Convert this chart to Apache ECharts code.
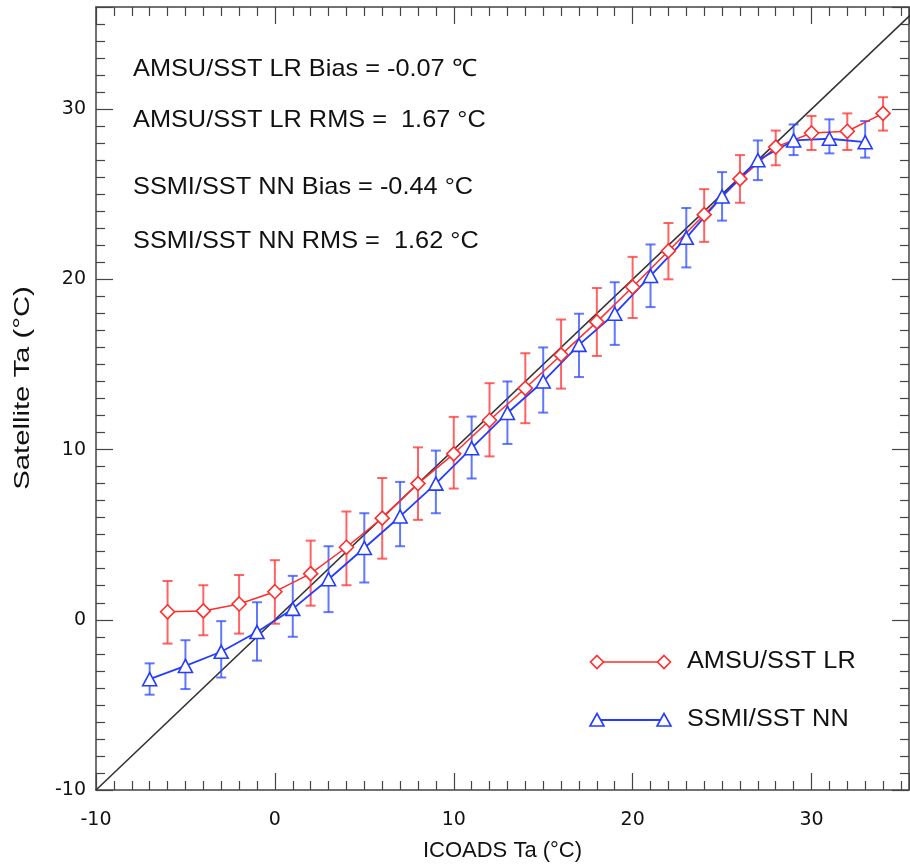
<!DOCTYPE html>
<html>
<head>
<meta charset="utf-8">
<script src="https://cdn.jsdelivr.net/npm/echarts@6/dist/echarts.min.js"></script>
<style>html,body{margin:0;padding:0;background:#fff}#c{width:910px;height:867px}</style>
</head>
<body>
<div id="c"></div>
<script>
// AMSU/SST LR (red diamonds)
const amsuX   = [-6, -4, -2, 0, 2, 4, 6, 8, 10, 12, 14, 16, 18, 20, 22, 24, 26, 28, 30, 32, 34];
const amsuY   = [0.47, 0.52, 0.93, 1.65, 2.71, 4.26, 5.97, 8.0, 9.75, 11.72, 13.6, 15.56, 17.5, 19.55, 21.67, 23.8, 25.9, 27.77, 28.6, 28.7, 29.75];
const amsuLo  = [-1.40, -0.91, -0.81, -0.23, 0.83, 2.03, 3.59, 5.87, 7.71, 9.6, 11.55, 13.58, 15.5, 17.73, 20.0, 22.2, 24.5, 26.7, 27.6, 27.6, 28.74];
const amsuHi  = [2.28, 2.03, 2.63, 3.5, 4.65, 6.36, 8.33, 10.13, 11.92, 13.9, 15.66, 17.64, 19.49, 21.32, 23.31, 25.3, 27.3, 28.74, 29.6, 29.75, 30.7];

// SSMI/SST NN (blue triangles)
const ssmiX   = [-7, -5, -3, -1, 1, 3, 5, 7, 9, 11, 13, 15, 17, 19, 21, 23, 25, 27, 29, 31, 33];
const ssmiY   = [-3.49, -2.71, -1.88, -0.72, 0.64, 2.38, 4.22, 6.07, 8.0, 10.08, 12.15, 14.0, 16.15, 17.98, 20.2, 22.44, 24.87, 27.0, 28.16, 28.26, 28.06];
const ssmiLo  = [-4.4, -4.07, -3.39, -2.4, -1.0, 0.45, 2.19, 4.32, 6.26, 8.3, 10.33, 12.17, 14.26, 16.15, 18.37, 20.7, 23.45, 25.83, 27.3, 27.4, 27.15];
const ssmiHi  = [-2.56, -1.2, -0.08, 1.03, 2.58, 4.32, 6.26, 8.1, 9.94, 11.94, 14.0, 16.0, 17.98, 19.83, 22.05, 24.19, 26.3, 28.16, 29.1, 29.4, 29.3];

const oneToOne = [[-10, -10], [36, 36]];
const statLines = [
  'AMSU/SST LR Bias = -0.07 \u2103',
  'AMSU/SST LR RMS =  1.67 \u00B0C',
  'SSMI/SST NN Bias = -0.44 \u00B0C',
  'SSMI/SST NN RMS =  1.62 \u00B0C'
];
const legendNames = ['AMSU/SST LR', 'SSMI/SST NN'];
const xTitle = 'ICOADS Ta (\u00B0C)';
const yTitle = 'Satellite Ta (\u00B0C)';

const RED = 'rgb(255,45,45)';
const BLUE = 'rgb(35,60,255)';
const RED_EB = 'rgba(255,60,60,0.8)';
const BLUE_EB = 'rgba(45,75,255,0.75)';
const FONT = 'Liberation Sans';
const TICKFONT = 'DejaVu Sans';

function errData(xs, lo, hi) { return xs.map((x, i) => [x, lo[i], hi[i]]); }
function pairs(xs, ys) { return xs.map((x, i) => [x, ys[i]]); }
function errRender(color) {
  return function (params, api) {
    const x = api.value(0);
    const p1 = api.coord([x, api.value(1)]);
    const p2 = api.coord([x, api.value(2)]);
    const w = 5;
    const st = { stroke: color, lineWidth: 2, fill: null };
    return { type: 'group', children: [
      { type: 'line', shape: { x1: p1[0], y1: p1[1], x2: p2[0], y2: p2[1] }, style: st },
      { type: 'line', shape: { x1: p1[0] - w, y1: p1[1], x2: p1[0] + w, y2: p1[1] }, style: st },
      { type: 'line', shape: { x1: p2[0] - w, y1: p2[1], x2: p2[0] + w, y2: p2[1] }, style: st }
    ]};
  };
}

const axisCommon = {
  type: 'value', min: -10, interval: 10,
  axisLine: { show: true, onZero: false, lineStyle: { color: '#444', width: 1.5 } },
  axisTick: { show: true, inside: true, length: 17, lineStyle: { color: '#444', width: 1.2 } },
  minorTick: { show: true, splitNumber: 10, length: 9, lineStyle: { color: '#444', width: 1.2 } },
  splitLine: { show: false },
  minorSplitLine: { show: false }
};

function diamondPts(cx, cy, r) { return [[cx, cy - r], [cx + r, cy], [cx, cy + r], [cx - r, cy]]; }
function triPts(cx, cy) { return [[cx, cy - 6.5], [cx + 7, cy + 6], [cx - 7, cy + 6]]; }

const chart = echarts.init(document.getElementById('c'));
const gl = 96, gt = 7, gr = 1, gb = 69;
chart.setOption({
  animation: false,
  backgroundColor: '#fff',
  grid: { left: gl, top: gt, right: gr, bottom: gb },
  xAxis: [
    Object.assign({}, axisCommon, { max: 35.45, position: 'bottom',
      name: xTitle, nameLocation: 'middle', nameGap: 50,
      nameTextStyle: { fontFamily: FONT, fontSize: 22, color: '#111' },
      axisLabel: { fontFamily: TICKFONT, fontSize: 19, color: '#111', margin: 21, showMaxLabel: false } }),
    Object.assign({}, axisCommon, { max: 35.45, position: 'top', axisLabel: { show: false } })
  ],
  yAxis: [
    Object.assign({}, axisCommon, { max: 36, position: 'left',
      axisLabel: { fontFamily: TICKFONT, fontSize: 19, color: '#111', margin: 10, showMaxLabel: false } }),
    Object.assign({}, axisCommon, { max: 36, position: 'right', axisLabel: { show: false } })
  ],
  series: [
    { type: 'line', data: oneToOne, symbol: 'none', lineStyle: { color: '#333', width: 1.6 }, z: 1, silent: true },
    { type: 'custom', data: errData(amsuX, amsuLo, amsuHi), renderItem: errRender(RED_EB), z: 2, encode: { x: 0, y: [1, 2] } },
    { type: 'custom', data: errData(ssmiX, ssmiLo, ssmiHi), renderItem: errRender(BLUE_EB), z: 2, encode: { x: 0, y: [1, 2] } },
    { type: 'line', name: legendNames[0], data: pairs(amsuX, amsuY), symbol: 'diamond', symbolSize: 14,
      showAllSymbol: true, lineStyle: { color: RED, width: 1.5 },
      itemStyle: { color: '#fff', borderColor: RED, borderWidth: 1.6 }, z: 3 },
    { type: 'line', name: legendNames[1], data: pairs(ssmiX, ssmiY), symbol: 'triangle', symbolSize: [14, 13],
      showAllSymbol: true, lineStyle: { color: BLUE, width: 1.8 },
      itemStyle: { color: '#fff', borderColor: BLUE, borderWidth: 1.6 }, z: 3 }
  ],
  graphic: [
    ...statLines.map((t, i) => ({ type: 'text', x: 133, y: [69, 120, 187, 241][i], scaleX: 1.055,
      style: { text: t, font: '24px ' + FONT, fill: '#111', verticalAlign: 'middle' } })),
    { type: 'text', x: 23, y: 388, rotation: Math.PI / 2, scaleX: 1.33,
      style: { text: yTitle, font: '22px ' + FONT, fill: '#111', align: 'center', verticalAlign: 'middle' } },
    { type: 'line', shape: { x1: 597, y1: 662, x2: 664, y2: 662 }, style: { stroke: RED, lineWidth: 1.5 } },
    { type: 'polygon', shape: { points: diamondPts(597, 662, 6.5) }, style: { stroke: RED, fill: '#fff', lineWidth: 1.6 } },
    { type: 'polygon', shape: { points: diamondPts(664, 662, 6.5) }, style: { stroke: RED, fill: '#fff', lineWidth: 1.6 } },
    { type: 'text', x: 687, y: 662, scaleX: 1.1, style: { text: legendNames[0], font: '23px ' + FONT, fill: '#111', verticalAlign: 'middle' } },
    { type: 'line', shape: { x1: 597, y1: 720, x2: 664, y2: 720 }, style: { stroke: BLUE, lineWidth: 1.8 } },
    { type: 'polygon', shape: { points: triPts(597, 720) }, style: { stroke: BLUE, fill: '#fff', lineWidth: 1.6 } },
    { type: 'polygon', shape: { points: triPts(664, 720) }, style: { stroke: BLUE, fill: '#fff', lineWidth: 1.6 } },
    { type: 'text', x: 687, y: 720, scaleX: 1.1, style: { text: legendNames[1], font: '23px ' + FONT, fill: '#111', verticalAlign: 'middle' } }
  ]
});
</script>
</body>
</html>
